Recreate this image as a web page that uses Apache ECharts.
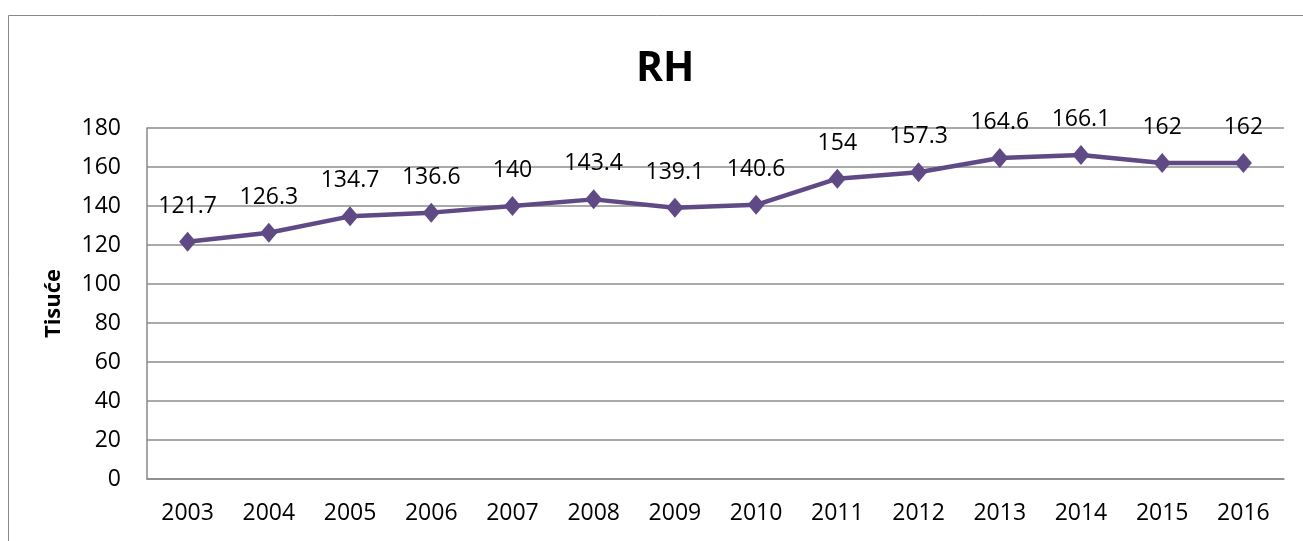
<!DOCTYPE html>
<html><head><meta charset="utf-8">
<script src="https://cdn.jsdelivr.net/npm/echarts@6/dist/echarts.min.js"></script>
<style>html,body{margin:0;padding:0;background:#fff}#c{width:1303px;height:541px}</style>
</head><body><div id="c"></div>
<script>
const years = ['2003','2004','2005','2006','2007','2008','2009','2010','2011','2012','2013','2014','2015','2016'];
const values = [121.7,126.3,134.7,136.6,140,143.4,139.1,140.6,154,157.3,164.6,166.1,162,162];
const yTicks = {min:0, max:180, interval:20};
const chart = echarts.init(document.getElementById('c'));
const font = "'Open Sans', 'Liberation Sans', sans-serif";
chart.setOption({
  backgroundColor:'#fff',
  animation:false,
  graphic:[{type:'rect', shape:{x:8.5,y:15.5,width:1400,height:700}, style:{fill:'none', stroke:'#888', lineWidth:1}, silent:true}],
  title:{text:'RH', left:631, top:44, textStyle:{fontFamily:font, fontSize:41, fontWeight:'bold', color:'#000'}},
  grid:{left:147, right:19, top:128, bottom:62},
  xAxis:{type:'category', data:years, boundaryGap:true,
    axisLine:{show:true, lineStyle:{color:'#888', width:1.5}}, axisTick:{show:false},
    axisLabel:{fontFamily:font, fontSize:23, color:'#000', margin:23}},
  yAxis:{type:'value', min:yTicks.min, max:yTicks.max, interval:yTicks.interval,
    name:'Tisuće', nameLocation:'middle', nameGap:82, nameRotate:90,
    nameTextStyle:{fontFamily:font, fontSize:22, fontWeight:'bold', color:'#000'},
    axisLine:{show:true, lineStyle:{color:'#888', width:1.5}}, axisTick:{show:false},
    axisLabel:{fontFamily:font, fontSize:23, color:'#000', margin:26},
    splitLine:{lineStyle:{color:'#8c8c8c', width:1.5}}},
  series:[{type:'line', data:values, symbol:'diamond', symbolSize:[17,20],
    lineStyle:{color:'#5f4a85', width:4.5}, itemStyle:{color:'#5f4a85'},
    label:{show:true, position:'top', distance:14, fontFamily:font, fontSize:23, color:'#000'}}]
});
</script></body></html>
